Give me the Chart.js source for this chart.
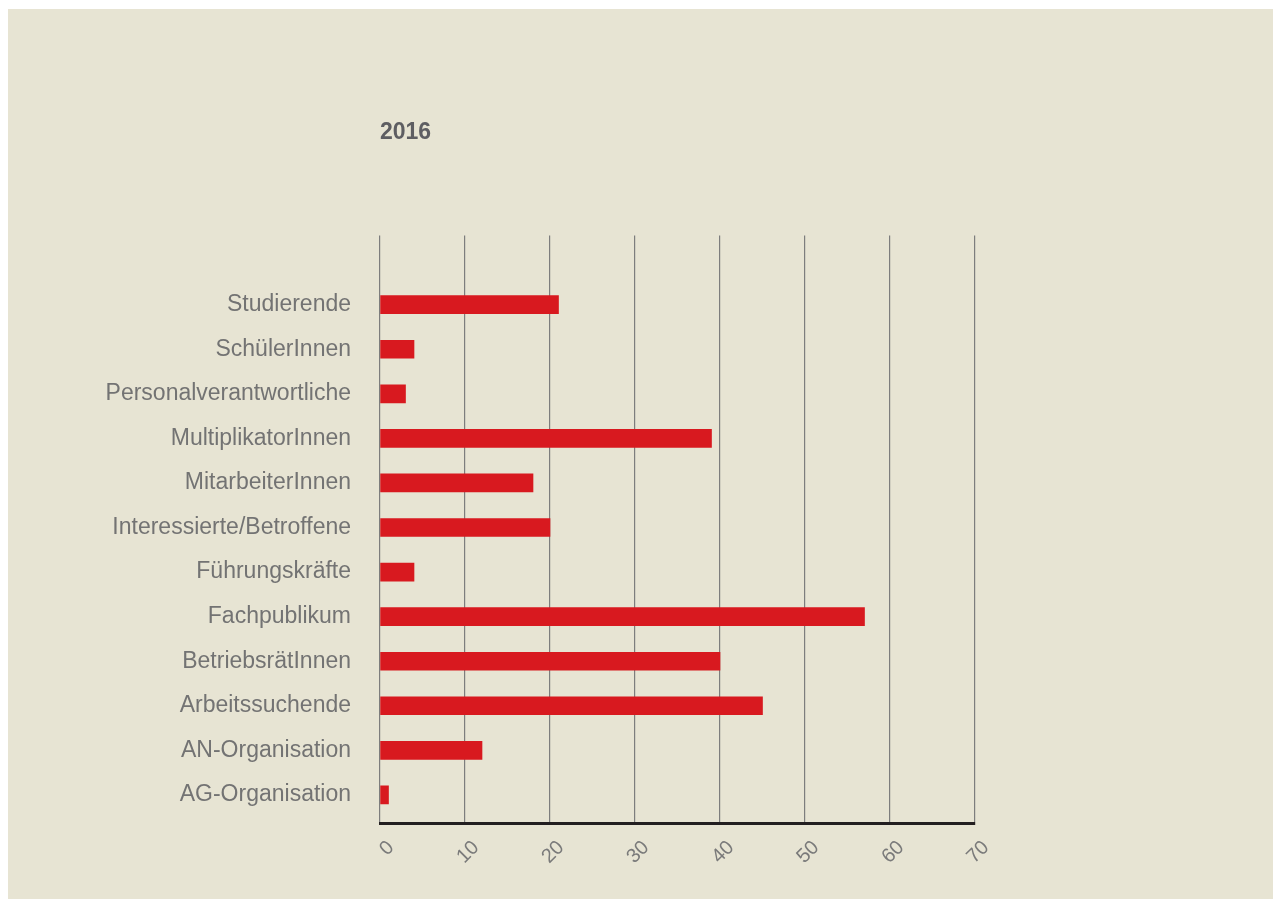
<!DOCTYPE html>
<html>
<head>
<meta charset="utf-8">
<script src="https://cdn.jsdelivr.net/npm/chart.js@4/dist/chart.umd.min.js"></script>
<style>
  html, body { margin: 0; padding: 0; background: #ffffff; }
  #wrap {
    position: absolute; left: 8px; top: 9px;
    width: 1265px; height: 890px; background: #e7e4d3;
  }
</style>
</head>
<body>
<div id="wrap"><canvas id="chart" width="1265" height="890"></canvas></div>
<script>
const title = "2016";
const categories = [
  "Studierende",
  "SchülerInnen",
  "Personalverantwortliche",
  "MultiplikatorInnen",
  "MitarbeiterInnen",
  "Interessierte/Betroffene",
  "Führungskräfte",
  "Fachpublikum",
  "BetriebsrätInnen",
  "Arbeitssuchende",
  "AN-Organisation",
  "AG-Organisation",
];
const values = [21, 4, 3, 39, 18, 20, 4, 57, 40, 45, 12, 1];
const xTicks = [0, 10, 20, 30, 40, 50, 60, 70];

const canvas = document.querySelector("#chart");

new Chart(canvas.getContext("2d"), {
  type: "bar",
  data: {
    datasets: [
      {
        data: values.map((v, i) => ({ x: v, y: i })),
        backgroundColor: "#d8191f",
        borderWidth: 0,
        barThickness: 18,
      },
    ],
  },
  options: {
    indexAxis: "y",
    responsive: false,
    animation: false,
    layout: { padding: { left: 0, right: 298, top: 0, bottom: 0 } },
    plugins: {
      legend: { display: false },
      tooltip: { enabled: false },
      title: {
        display: true,
        text: title,
        align: "start",
        fullSize: false,
        color: "#5e5e62",
        font: { family: "Liberation Sans, Arial, sans-serif", size: 23, weight: "bold" },
        padding: { top: 110, bottom: 89 },
      },
    },
    scales: {
      x: {
        type: "linear",
        min: xTicks[0],
        max: xTicks[xTicks.length - 1],
        afterBuildTicks: (s) => { s.ticks = xTicks.map((v) => ({ value: v })); },
        afterFit: (s) => { s.height = 76; },
        grid: { color: "#7d7d7d", lineWidth: 1.2, drawTicks: false },
        border: { display: true, color: "#231f20", width: 3 },
        ticks: {
          color: "#7a7a7a",
          minRotation: 45,
          maxRotation: 45,
          padding: 13,
          labelOffset: 11,
          font: { family: "Liberation Sans, Arial, sans-serif", size: 20 },
        },
      },
      y: {
        type: "linear",
        reverse: true,
        offset: false,
        min: -1.55,
        max: 11.63,
        afterBuildTicks: (s) => { s.ticks = categories.map((c, i) => ({ value: i })); },
        afterFit: (s) => { s.width = 372; },
        grid: { display: false, drawTicks: false },
        border: { display: false },
        ticks: {
          color: "#737373",
          padding: 29,
          callback: (v) => categories[v],
          font: { family: "Liberation Sans, Arial, sans-serif", size: 23 },
        },
      },
    },
  },
});
</script>
</body>
</html>
